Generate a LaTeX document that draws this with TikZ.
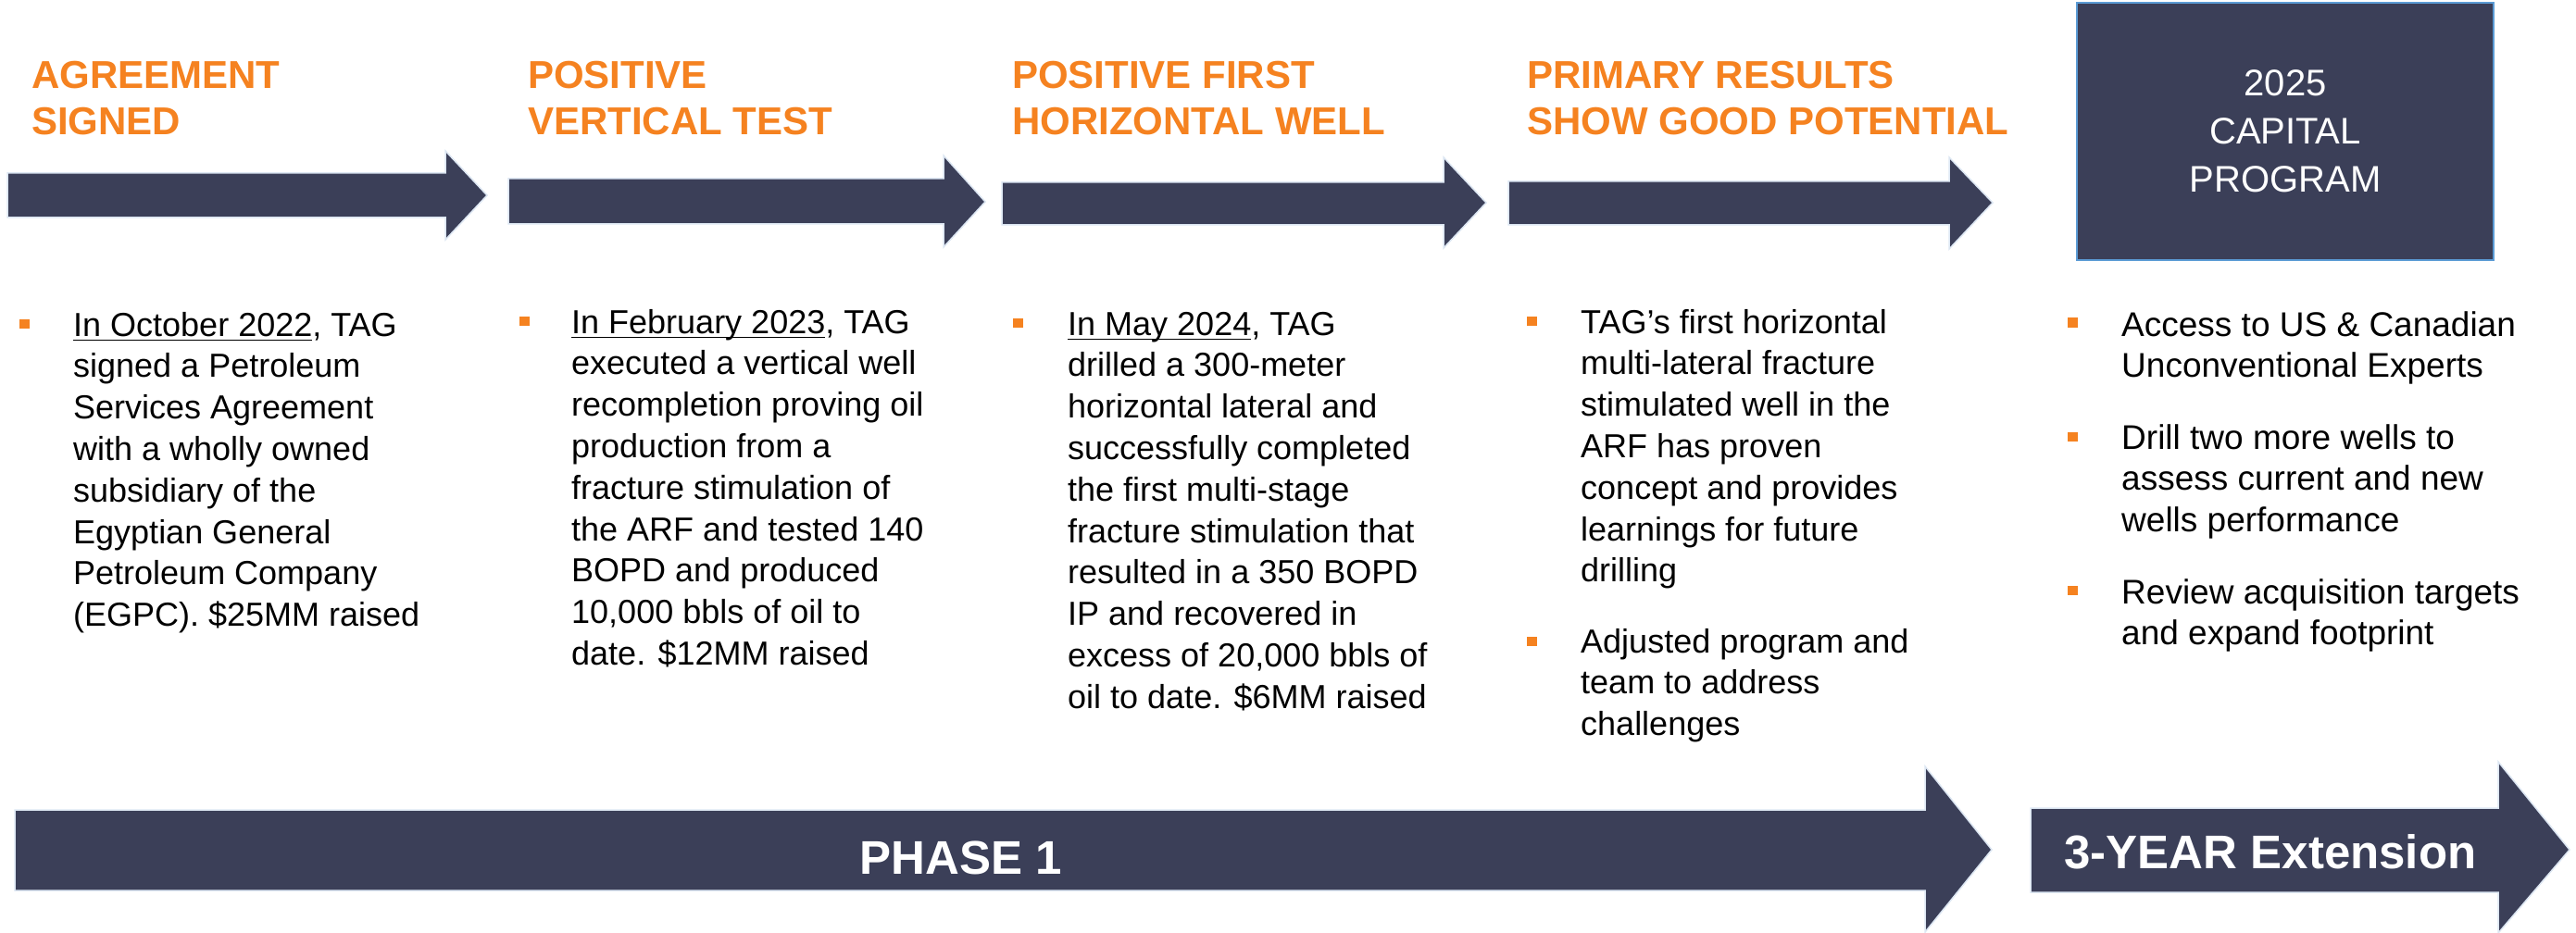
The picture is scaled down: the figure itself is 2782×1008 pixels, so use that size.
\documentclass[tikz,border=0pt]{standalone}
\usepackage{fontspec}
\setmainfont{Liberation Sans}
\definecolor{navy}{HTML}{3B3F58}
\definecolor{orng}{HTML}{F58220}
\definecolor{edgeblue}{HTML}{DCE6F2}
\definecolor{boxblue}{HTML}{5B9BD5}
\newcommand\ulin[1]{\setbox0\hbox{#1}\rlap{\rule[-5pt]{\wd0}{1.5pt}}\box0}
\begin{document}
\begin{tikzpicture}[x=1pt,y=-1pt,
  arr/.style={fill=navy, draw=edgeblue, line width=1.5pt, line join=miter},
  headtxt/.style={anchor=north west, inner sep=0, align=left, text=orng, font=\fontsize{42}{50}\selectfont\bfseries},
  bodytxt/.style={anchor=north west, inner sep=0, align=left, font=\fontsize{36}{44.8}\selectfont},
  bodywide/.style={bodytxt, font=\fontsize{37}{44.8}\selectfont},
  bul/.style={fill=orng, inner sep=0, minimum width=11pt, minimum height=10.5pt, draw=none},
  bigtxt/.style={anchor=base, inner sep=0, text=white, font=\fontsize{51}{60}\selectfont\bfseries}]
\useasboundingbox (0,0) rectangle (2782,1008);

% top arrows
\path[arr] (8,187) -- (481,187) -- (481,163) -- (526,211) -- (481,259) -- (481,235) -- (8,235) -- cycle;
\path[arr] (549,193) -- (1019,193) -- (1019,168) -- (1064,218) -- (1019,267) -- (1019,242) -- (549,242) -- cycle;
\path[arr] (1082,197) -- (1559,197) -- (1559,170) -- (1605,219) -- (1559,268) -- (1559,243) -- (1082,243) -- cycle;
\path[arr] (1629,196) -- (2105,196) -- (2105,170) -- (2152,219) -- (2105,269) -- (2105,243) -- (1629,243) -- cycle;

% bottom arrows
\path[arr] (16,875) -- (2079,875) -- (2079,828) -- (2151,918) -- (2079,1007) -- (2079,962) -- (16,962) -- cycle;
\path[arr] (2193,873) -- (2698,873) -- (2698,823) -- (2775,918) -- (2698,1008) -- (2698,964) -- (2193,964) -- cycle;

% capital program box
\node[draw=boxblue, fill=navy, line width=2pt, minimum width=450pt, minimum height=278pt, inner sep=0] (capbox) at (2468,142) {};
\node[anchor=north, inner sep=0, align=center, text=white, font=\fontsize{40}{52}\selectfont] (captxt) at (2468,66.6) {\strut 2025\\CAPITAL\\PROGRAM};

% headings
\node[headtxt] (h1) at (34,60) {\strut AGREEMENT\\SIGNED};
\node[headtxt] (h2) at (570,60) {\strut POSITIVE\\VERTICAL TEST};
\node[headtxt] (h3) at (1093,60) {\strut POSITIVE FIRST\\HORIZONTAL WELL};
\node[headtxt] (h4) at (1649,60) {\strut PRIMARY RESULTS\\SHOW GOOD POTENTIAL};

% bullets
\node[bul] (b1) at (26.5,350) {};
\node[bul] (b2) at (566.5,347) {};
\node[bul] (b3) at (1099.5,349) {};
\node[bul] (b4a) at (1654,347) {};
\node[bul] (b4b) at (1654,693) {};
\node[bul] (b5a) at (2238.5,348.5) {};
\node[bul] (b5b) at (2238.5,472) {};
\node[bul] (b5c) at (2238.5,638) {};

% body texts
\node[bodytxt] (c1) at (79,331.6) {\strut\ulin{In October 2022}, TAG\\signed a Petroleum\\Services Agreement\\with a wholly owned\\subsidiary of the\\Egyptian General\\Petroleum Company\\(EGPC). \$25MM raised};
\node[bodytxt] (c2) at (617,328.6) {\strut\ulin{In February 2023}, TAG\\executed a vertical well\\recompletion proving oil\\production from a\\fracture stimulation of\\the ARF and tested 140\\BOPD and produced\\10,000 bbls of oil to\\date. \$12MM raised};
\node[bodytxt] (c3) at (1153,330.6) {\strut\ulin{In May 2024}, TAG\\drilled a 300-meter\\horizontal lateral and\\successfully completed\\the first multi-stage\\fracture stimulation that\\resulted in a 350 BOPD\\IP and recovered in\\excess of 20,000 bbls of\\oil to date. \$6MM raised};
\node[bodytxt] (c4a) at (1707,328.6) {\strut TAG’s first horizontal\\multi-lateral fracture\\stimulated well in the\\ARF has proven\\concept and provides\\learnings for future\\drilling};
\node[bodytxt] (c4b) at (1707,673.6) {\strut Adjusted program and\\team to address\\challenges};
\node[bodywide] (c5a) at (2291,331.6) {\strut Access to US \& Canadian\\Unconventional Experts};
\node[bodywide] (c5b) at (2291,453.6) {\strut Drill two more wells to\\assess current and new\\wells performance};
\node[bodywide] (c5c) at (2291,620.6) {\strut Review acquisition targets\\and expand footprint};

% bottom labels
\node[bigtxt] (ph1) at (1038,944) {PHASE 1};
\node[bigtxt, font=\fontsize{51}{60}\selectfont\bfseries] (ext) at (2452,938) {3-YEAR Extension};
\end{tikzpicture}
\end{document}
